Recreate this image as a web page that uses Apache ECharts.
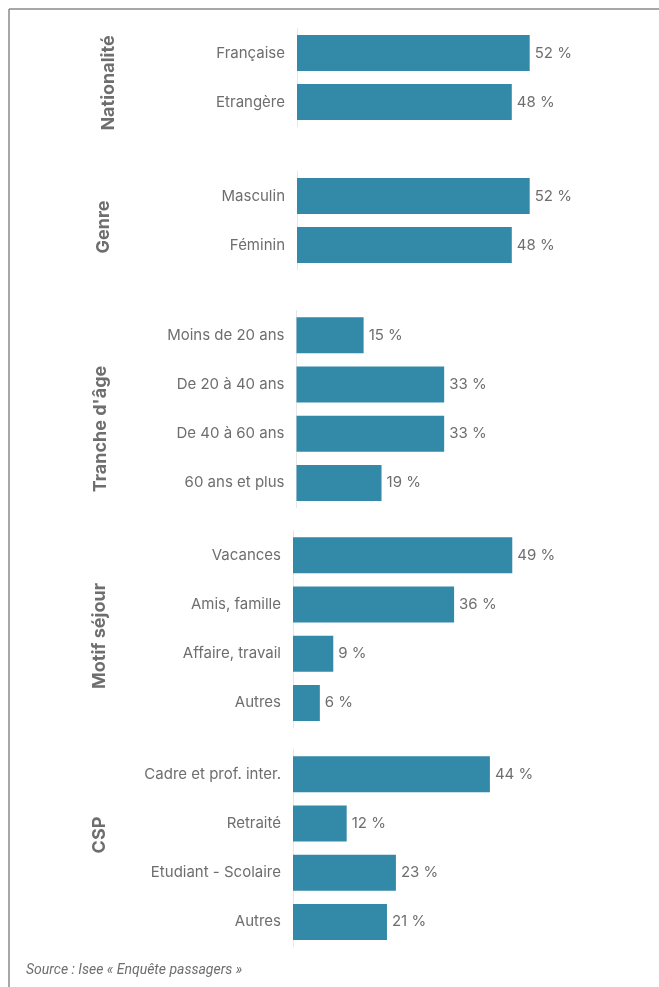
<!DOCTYPE html>
<html>
<head>
<meta charset="utf-8">
<script src="https://cdn.jsdelivr.net/npm/echarts@6/dist/echarts.min.js"></script>
<style>
  html, body { margin: 0; padding: 0; background: #fff; }
  #main { width: 659px; height: 987px; }
</style>
</head>
<body>
<div id="main"></div>
<script>
// données
var natCats = ['Française', 'Etrangère'];
var natValues = [52, 48];
var genreCats = ['Masculin', 'Féminin'];
var genreValues = [52, 48];
var ageCats = ['Moins de 20 ans', 'De 20 à 40 ans', 'De 40 à 60 ans', '60 ans et plus'];
var ageValues = [15, 33, 33, 19];
var motifCats = ['Vacances', 'Amis, famille', 'Affaire, travail', 'Autres'];
var motifValues = [49, 36, 9, 6];
var cspCats = ['Cadre et prof. inter.', 'Retraité', 'Etudiant - Scolaire', 'Autres'];
var cspValues = [44, 12, 23, 21];
var groupTitles = ['Nationalité', 'Genre', "Tranche d'âge", 'Motif séjour', 'CSP'];

var panels = [
    { cats: natCats, values: natValues, top: 28.5, height: 98, left: 297 },
    { cats: genreCats, values: genreValues, top: 171.5, height: 98, left: 297 },
    { cats: ageCats, values: ageValues, top: 310.5, height: 197, left: 296.5 },
    { cats: motifCats, values: motifValues, top: 530.5, height: 197, left: 293 },
    { cats: cspCats, values: cspValues, top: 749.5, height: 197, left: 293 }
];
// position des titres de groupe (verticaux)
var titlePos = [[109, 83], [104, 227], [101, 429], [100, 636], [100, 835]];

var textColor = '#6e6e6e';
var font = 'Inter, Roboto, sans-serif';

var grids = [], xAxes = [], yAxes = [], series = [];
panels.forEach(function (p, i) {
    grids.push({ left: p.left, top: p.top, width: 358, height: p.height });
    xAxes.push({
        type: 'value', gridIndex: i, min: 0, max: 80, show: false
    });
    yAxes.push({
        type: 'category', gridIndex: i, inverse: true, data: p.cats,
        axisLine: { show: true, lineStyle: { color: '#e6e6e6', width: 1 } },
        axisTick: { show: false },
        axisLabel: { color: textColor, fontSize: 15, fontFamily: font, margin: 12 }
    });
    series.push({
        type: 'bar', xAxisIndex: i, yAxisIndex: i, data: p.values,
        barWidth: 36,
        itemStyle: { color: '#3389a8' },
        label: {
            show: true, position: 'right', distance: 5,
            formatter: '{c} %', color: textColor, fontSize: 15, fontFamily: font
        },
        silent: true
    });
});

var graphics = [
    // cadre
    { type: 'line', shape: { x1: 9, y1: 9, x2: 659, y2: 9 }, style: { stroke: '#8a8a8a', lineWidth: 1.5 } },
    { type: 'line', shape: { x1: 9, y1: 9, x2: 9, y2: 987 }, style: { stroke: '#8a8a8a', lineWidth: 1.5 } },
    {
        type: 'text', left: 26, top: 963,
        style: {
            text: 'Source : Isee « Enquête passagers »', fill: textColor,
            font: 'italic 14px Roboto, sans-serif'
        }
    }
];
groupTitles.forEach(function (t, i) {
    graphics.push({
        type: 'text', x: titlePos[i][0], y: titlePos[i][1], rotation: Math.PI / 2,
        style: {
            text: t, fill: textColor, align: 'center', verticalAlign: 'middle',
            font: 'bold 18px ' + font
        }
    });
});

var myChart = echarts.init(document.getElementById('main'));
myChart.setOption({
    animation: false,
    grid: grids,
    xAxis: xAxes,
    yAxis: yAxes,
    series: series,
    graphic: graphics
});
</script>
</body>
</html>
